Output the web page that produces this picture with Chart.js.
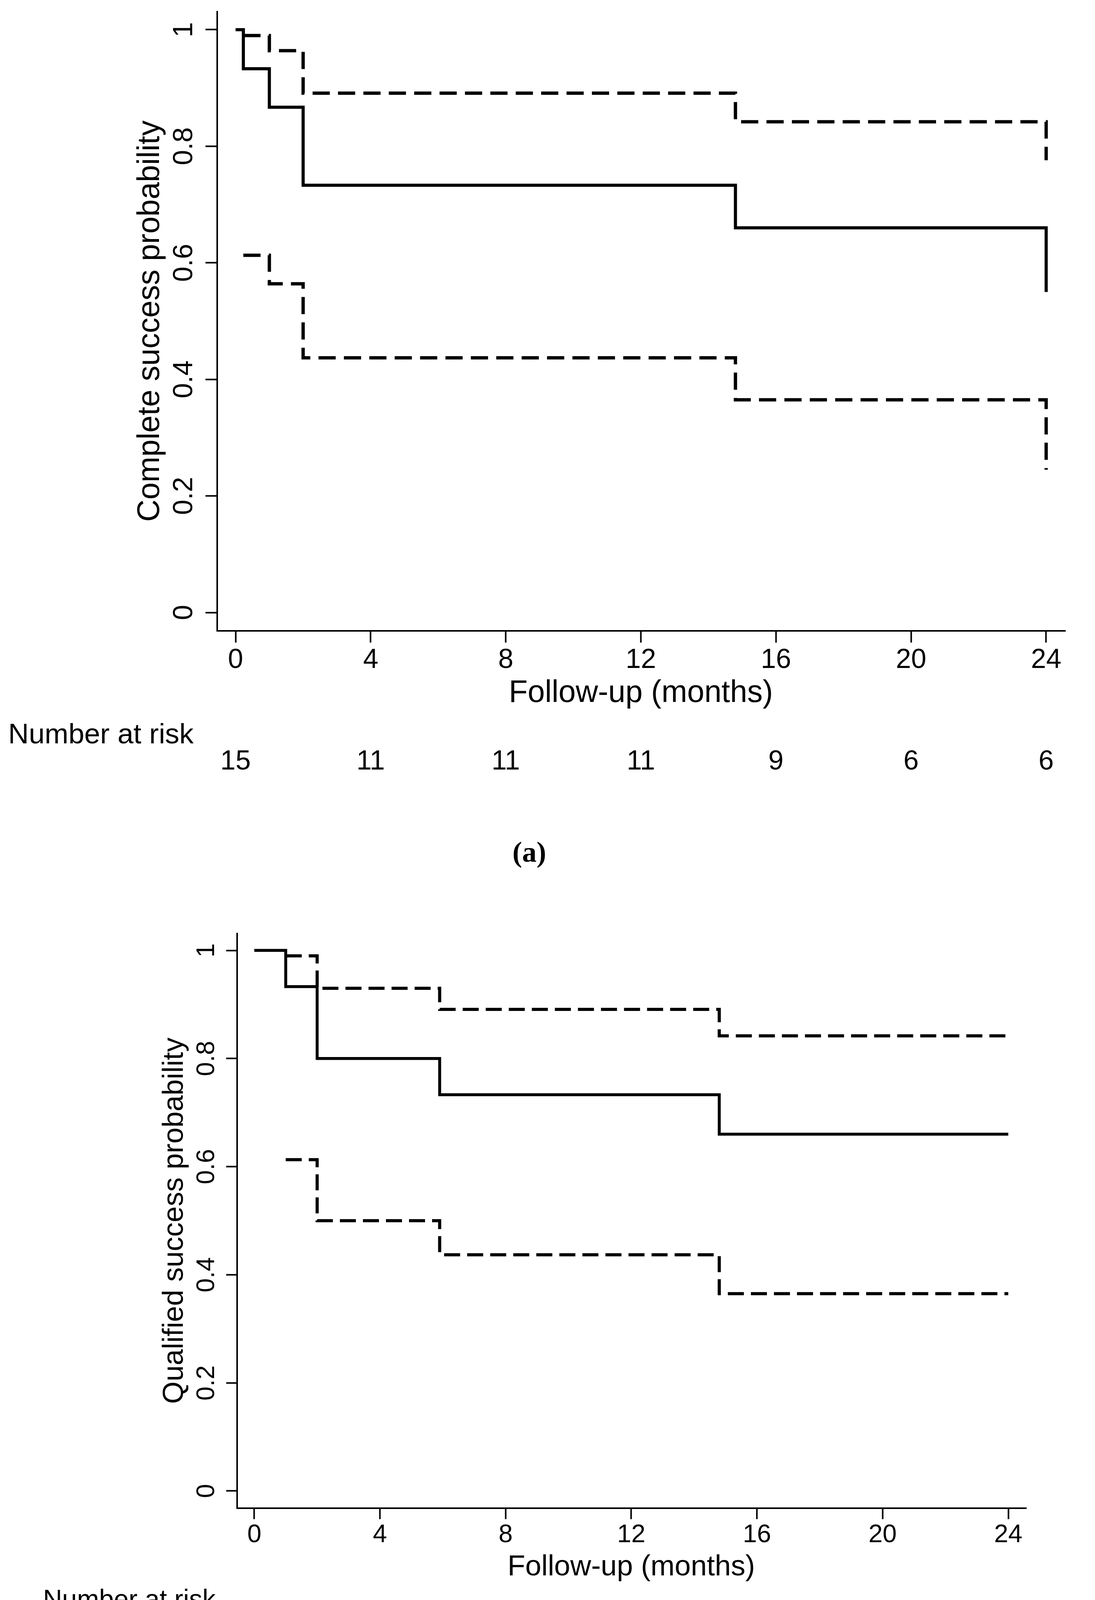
<!DOCTYPE html>
<html>
<head>
<meta charset="utf-8">
<title>Complete and qualified success probability</title>
<script src="https://cdn.jsdelivr.net/npm/chart.js@4.4.1/dist/chart.umd.min.js"></script>
<style>
html, body { margin: 0; padding: 0; background: #fff; overflow: hidden; }
canvas { position: absolute; left: 0; }
#chartA { top: 0; }
#chartB { top: 2250px; }
</style>
</head>
<body>
<canvas id="chartA" width="2803" height="2250"></canvas>
<canvas id="chartB" width="2803" height="2224"></canvas>
<script>
// Panel (a): complete success (Kaplan-Meier estimate + 95% CI)
const monthsA = [0, 0.23, 1, 2, 14.8, 24];
const survA = [1, 0.933, 0.867, 0.733, 0.66, 0.55];
const upperA = [null, 0.99, 0.964, 0.891, 0.842, 0.776];
const lowerA = [null, 0.613, 0.564, 0.437, 0.365, 0.245];
const riskA = [15, 11, 11, 11, 9, 6, 6];

// Panel (b): qualified success
const monthsB = [0, 1, 2, 5.9, 14.8, 24];
const survB = [1, 0.933, 0.8, 0.733, 0.66, 0.66];
const upperB = [null, 0.99, 0.93, 0.891, 0.842, 0.842];
const lowerB = [null, 0.613, 0.5, 0.437, 0.365, 0.365];
const riskB = [15, 12, 11, 11, 9, 6, 6];

const xTicks = [0, 4, 8, 12, 16, 20, 24];
const xTickLabels = ['0', '4', '8', '12', '16', '20', '24'];
const yTicks = [0, 0.2, 0.4, 0.6, 0.8, 1];
const yTickLabels = ['0', '0.2', '0.4', '0.6', '0.8', '1'];

const SANS = '"Liberation Sans", Arial, sans-serif';
const SERIF = '"Liberation Serif", "Times New Roman", serif';

function points(xs, ys) {
    const out = [];
    xs.forEach((x, i) => {
        if (ys[i] !== null) out.push({ x: x, y: ys[i] });
    });
    return out;
}

// draws rotated y labels, axis titles, risk table and caption
function textPlugin(t) {
    return {
        id: 'kmText',
        afterDraw(chart) {
            const ctx = chart.ctx;
            const xs = chart.scales.x;
            const ys = chart.scales.y;
            ctx.save();
            ctx.fillStyle = '#000';
            ctx.textBaseline = 'alphabetic';
            ctx.textAlign = 'center';

            // y tick labels, rotated
            ctx.font = t.tickSize + 'px ' + SANS;
            yTicks.forEach((v, i) => {
                ctx.save();
                ctx.translate(t.yTickBase, ys.getPixelForValue(v));
                ctx.rotate(-Math.PI / 2);
                ctx.fillText(yTickLabels[i], 0, 0);
                ctx.restore();
            });

            // y title
            ctx.font = t.titleSize + 'px ' + SANS;
            ctx.save();
            ctx.translate(t.yTitleBase, (ys.getPixelForValue(0) + ys.getPixelForValue(1)) / 2);
            ctx.rotate(-Math.PI / 2);
            ctx.fillText(t.yTitle, 0, 0);
            ctx.restore();

            // x tick labels
            ctx.font = t.tickSize + 'px ' + SANS;
            xTicks.forEach((v, i) => {
                ctx.fillText(xTickLabels[i], xs.getPixelForValue(v), t.xTickBase);
            });

            // x title
            ctx.font = t.titleSize + 'px ' + SANS;
            const midX = (xs.getPixelForValue(0) + xs.getPixelForValue(24)) / 2;
            ctx.fillText('Follow-up (months)', midX, t.xTitleBase);

            // number at risk
            ctx.font = t.riskLabelSize + 'px ' + SANS;
            ctx.textAlign = 'left';
            ctx.fillText('Number at risk', t.riskLabelX, t.riskLabelBase);
            ctx.textAlign = 'center';
            ctx.font = t.tickSize + 'px ' + SANS;
            t.risk.forEach((n, i) => {
                ctx.fillText(String(n), xs.getPixelForValue(xTicks[i]), t.riskBase);
            });

            // caption
            ctx.font = 'bold ' + t.captionSize + 'px ' + SERIF;
            ctx.fillText(t.caption, t.captionX, t.captionBase);
            ctx.restore();
        }
    };
}

function makeChart(id, d) {
    const ctx = document.getElementById(id).getContext('2d');
    const lineStyle = {
        borderColor: '#000',
        pointRadius: 0,
        stepped: 'before',
        tension: 0,
        fill: false,
        borderCapStyle: 'butt',
        borderJoinStyle: 'miter'
    };
    const axisGrid = {
        display: true,
        drawOnChartArea: false,
        drawTicks: true,
        tickLength: d.tick,
        tickWidth: 4,
        tickColor: '#000'
    };
    return new Chart(ctx, {
        type: 'line',
        data: {
            datasets: [
                Object.assign({ label: 'Estimate', data: points(d.months, d.surv), borderWidth: d.solidW }, lineStyle),
                Object.assign({ label: 'Upper 95% CI', data: points(d.months, d.upper), borderWidth: d.dashW, borderDash: d.dash }, lineStyle),
                Object.assign({ label: 'Lower 95% CI', data: points(d.months, d.lower), borderWidth: d.dashW, borderDash: d.dash }, lineStyle)
            ]
        },
        options: {
            responsive: false,
            animation: false,
            devicePixelRatio: 1,
            layout: { padding: d.pad },
            plugins: {
                legend: { display: false },
                tooltip: { enabled: false }
            },
            scales: {
                x: {
                    type: 'linear',
                    min: d.xMin,
                    max: d.xMax,
                    afterBuildTicks: s => { s.ticks = xTicks.map(v => ({ value: v })); },
                    afterFit: s => { s.height = d.tick; },
                    ticks: { display: false },
                    grid: axisGrid,
                    border: { display: true, color: '#000', width: 4 }
                },
                y: {
                    type: 'linear',
                    min: d.yMin,
                    max: d.yMax,
                    afterBuildTicks: s => { s.ticks = yTicks.map(v => ({ value: v })); },
                    afterFit: s => { s.width = d.tick; },
                    ticks: { display: false },
                    grid: axisGrid,
                    border: { display: true, color: '#000', width: 4 }
                }
            }
        },
        plugins: [textPlugin(d.text)]
    });
}

makeChart('chartA', {
    months: monthsA, surv: survA, upper: upperA, lower: lowerA,
    pad: { left: 526, top: 30, right: 76, bottom: 605 },
    tick: 30, solidW: 8, dashW: 8.5, dash: [44, 21],
    xMin: -0.544, xMax: 24.567, yMin: -0.0315, yMax: 1.0308,
    text: {
        yTitle: 'Complete success probability',
        tickSize: 70, titleSize: 79, riskLabelSize: 73, captionSize: 74,
        yTickBase: 492, yTitleBase: 407,
        xTickBase: 1710, xTitleBase: 1797,
        riskLabelX: 21, riskLabelBase: 1903, riskBase: 1970, risk: riskA,
        caption: '(a)', captionX: 1355, captionBase: 2206
    }
});

makeChart('chartB', {
    months: monthsB, surv: survB, upper: upperB, lower: lowerB,
    pad: { left: 579, top: 140, right: 176, bottom: 585 },
    tick: 28, solidW: 7.5, dashW: 8, dash: [41, 18],
    xMin: -0.547, xMax: 24.572, yMin: -0.0318, yMax: 1.0311,
    text: {
        yTitle: 'Qualified success probability',
        tickSize: 65, titleSize: 74, riskLabelSize: 68, captionSize: 74,
        yTickBase: 548, yTitleBase: 468,
        xTickBase: 1698, xTitleBase: 1783,
        riskLabelX: 110, riskLabelBase: 1867, riskBase: 1941, risk: riskB,
        caption: '(b)', captionX: 1358, captionBase: 2157
    }
});
</script>
</body>
</html>
